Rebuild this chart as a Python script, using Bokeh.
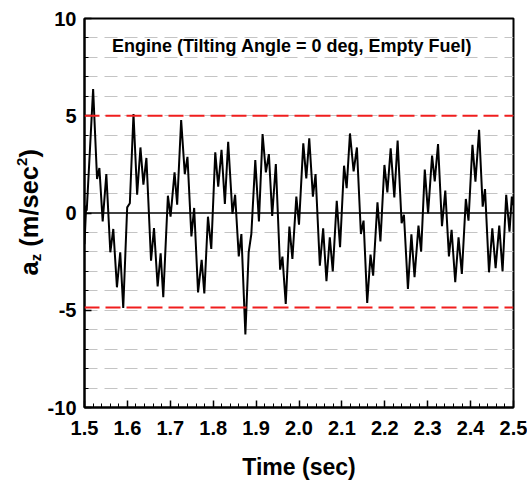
import math
from bokeh.plotting import figure
from bokeh.layouts import row
from bokeh.models import Range1d, FixedTicker, Label, Span
from bokeh.core.properties import value
from bokeh.embed import file_html
from bokeh.resources import INLINE

# ---- data ----
t_sec = [1.5000, 1.5039, 1.5052, 1.5201, 1.5293, 1.5347, 1.5424, 1.5509, 1.5602, 1.5671,
         1.5756, 1.5833, 1.5903, 1.5995, 1.6057, 1.6142, 1.6227, 1.6304, 1.6373, 1.6443,
         1.6551, 1.6620, 1.6705, 1.6775, 1.6836, 1.6944, 1.7006, 1.7099, 1.7160, 1.7253,
         1.7338, 1.7400, 1.7492, 1.7556, 1.7647, 1.7731, 1.7793, 1.7878, 1.7955, 1.8048,
         1.8117, 1.8194, 1.8272, 1.8349, 1.8449, 1.8511, 1.8596, 1.8657, 1.8750, 1.8827,
         1.8889, 1.8981, 1.9066, 1.9151, 1.9228, 1.9298, 1.9375, 1.9460, 1.9560, 1.9614,
         1.9691, 1.9776, 1.9846, 1.9938, 2.0000, 2.0100, 2.0170, 2.0239, 2.0324, 2.0386,
         2.0486, 2.0563, 2.0640, 2.0718, 2.0787, 2.0880, 2.0957, 2.1050, 2.1111, 2.1188,
         2.1273, 2.1350, 2.1443, 2.1505, 2.1590, 2.1667, 2.1728, 2.1829, 2.1898, 2.1991,
         2.2060, 2.2137, 2.2222, 2.2299, 2.2392, 2.2446, 2.2539, 2.2620, 2.2693, 2.2785,
         2.2847, 2.2932, 2.3009, 2.3102, 2.3164, 2.3241, 2.3333, 2.3410, 2.3495, 2.3557,
         2.3642, 2.3719, 2.3796, 2.3889, 2.3951, 2.4043, 2.4113, 2.4198, 2.4282, 2.4336,
         2.4429, 2.4506, 2.4583, 2.4668, 2.4745, 2.4830, 2.4907, 2.4961, 2.5000]
az = [-1.60, 0.38, 0.12, 6.37, 1.75, 2.31, -0.43, 2.00, -2.02, -0.82,
      -3.82, -2.02, -4.88, 0.29, 0.50, 5.09, 0.94, 3.37, 1.46, 2.83,
      -2.45, -0.77, -3.78, -2.07, -4.33, 0.89, -0.19, 2.09, 0.43, 4.78,
      2.00, 2.89, -1.20, 0.26, -4.08, -2.41, -4.13, -0.19, -1.85, 3.12,
      1.35, 3.25, 0.46, 3.66, -0.05, 0.94, -2.23, -1.08, -6.25, -2.02,
      -1.08, 2.72, -0.43, 4.06, 2.09, 3.03, -0.15, 2.52, -2.91, -2.24,
      -4.67, -0.70, -2.36, 0.84, -0.60, 3.58, 1.78, 3.84, 0.84, 2.00,
      -2.71, -0.79, -3.51, -1.25, -3.00, 0.63, -1.76, 2.43, 1.28, 4.09,
      2.14, 3.37, -1.08, -0.39, -4.62, -2.14, -3.22, 0.55, -1.46, 2.47,
      1.06, 3.32, 0.80, 3.72, -0.53, -0.09, -3.90, -1.10, -3.30, -0.65,
      -1.99, 2.23, -0.02, 2.95, 1.63, 3.54, -0.68, 1.15, -2.23, -0.87,
      -3.56, -1.25, -3.13, 0.72, -0.39, 3.51, 1.61, 4.28, 0.33, 1.23,
      -3.05, -0.79, -2.83, -0.65, -3.01, 0.94, -0.96, 0.84, 0.40]

x_ticks = [1.5, 1.6, 1.7, 1.8, 1.9, 2.0, 2.1, 2.2, 2.3, 2.4, 2.5]
x_tick_labels = ["1.5", "1.6", "1.7", "1.8", "1.9", "2.0", "2.1", "2.2", "2.3", "2.4", "2.5"]
y_ticks = [-10, -5, 0, 5, 10]
y_tick_labels = ["-10", "-5", "0", "5", "10"]
limit_upper = 5.0
limit_lower = -4.86
title_text = "Engine (Tilting Angle = 0 deg, Empty Fuel)"
x_label = "Time (sec)"
y_label_parts = ["a", "z", "(m/sec", "2", ")"]

X0, X1 = 1.5, 2.5
Y0, Y1 = -10, 10
FONT = "Liberation Sans"

TOTAL_W, H = 527, 485
YLAB_W = 44                       # narrow strip holding the rotated y title
W = TOTAL_W - YLAB_W
BL, BR, BT, BB = 81 - YLAB_W, 14, 18, 78
FW = W - BL - BR
FH = H - BT - BB

p = figure(width=W, height=H, x_range=Range1d(X0, X1), y_range=Range1d(Y0, Y1),
           output_backend="svg", toolbar_location=None,
           min_border_left=BL, min_border_right=BR, min_border_top=BT, min_border_bottom=BB)
p.background_fill_color = "white"
p.border_fill_color = "white"
p.outline_line_color = "black"
p.outline_line_width = 2

# picture pixel -> data helpers
def dx(px):
    return X0 + (px - YLAB_W - BL) * (X1 - X0) / FW

def dy(py):
    return Y1 - (py - BT) * (Y1 - Y0) / FH

# axes
x_minor = [round(X0 + 0.02 * i, 2) for i in range(51)]
p.xaxis.ticker = FixedTicker(ticks=x_ticks, minor_ticks=x_minor)
p.xaxis.major_label_overrides = {t: s for t, s in zip(x_ticks, x_tick_labels)}
p.yaxis.ticker = FixedTicker(ticks=y_ticks, minor_ticks=list(range(-10, 11)))
p.yaxis.major_label_overrides = {t: s for t, s in zip(y_ticks, y_tick_labels)}
for ax in (p.xaxis, p.yaxis):
    ax.axis_line_width = 2
    ax.axis_line_color = "black"
    ax.major_tick_in = 7
    ax.major_tick_out = 0
    ax.minor_tick_in = 4
    ax.minor_tick_out = 0
    ax.major_tick_line_width = 1.5
    ax.minor_tick_line_width = 1
    ax.major_tick_line_color = "black"
    ax.minor_tick_line_color = "black"
    ax.major_label_text_font = FONT
    ax.major_label_text_font_style = "bold"
    ax.major_label_text_font_size = "20px"
    ax.major_label_text_color = "black"
p.xaxis.major_label_standoff = 13
p.yaxis.major_label_standoff = 8
p.xaxis.axis_label = x_label
p.xaxis.axis_label_text_font = FONT
p.xaxis.axis_label_text_font_style = "bold"
p.xaxis.axis_label_text_font_size = "23px"
p.xaxis.axis_label_text_color = "black"
p.xaxis.axis_label_standoff = 16

p.xgrid.visible = False
p.ygrid.ticker = FixedTicker(ticks=[i for i in range(-9, 10) if i != 0])
p.ygrid.grid_line_color = "#c4c4c4"
p.ygrid.grid_line_width = 1
p.ygrid.grid_line_dash = "13 7"

# reference lines
for lim in (limit_upper, limit_lower):
    p.add_layout(Span(location=lim, dimension="width", line_color="#f01e1e",
                      line_width=2, line_dash="15 6"))
p.add_layout(Span(location=0, dimension="width", line_color="black", line_width=1.5))

# signal
p.line(t_sec, az, line_color="black", line_width=2)

# title inside the plot
p.add_layout(Label(x=dx(290), y=dy(45.7), text=title_text, text_font=FONT,
                   text_font_style="bold", text_font_size="18px", text_color="black",
                   text_align="center", text_baseline="alphabetic"))

# ---- narrow strip with the rotated y-axis title ----
# (its frame is aligned with the main frame by the row layout, so it shares the y mapping)
yl = figure(width=YLAB_W, height=H, x_range=Range1d(0, YLAB_W), y_range=Range1d(Y0, Y1),
            output_backend="svg", toolbar_location=None,
            x_axis_location=None, y_axis_location=None,
            min_border_left=0, min_border_right=0, min_border_top=BT, min_border_bottom=BB)
yl.outline_line_color = None
yl.background_fill_color = "white"
yl.border_fill_color = "white"
yl.xgrid.visible = False
yl.ygrid.visible = False

# each piece is anchored at its own centre so the rotation cannot move it
big, small = 25.5, 15
sizes = [big, small, big, small, big]
adv = [0.556, 0.500, 0.333 + 0.889 + 0.278 + 0.556 + 0.556 + 0.556, 0.556, 0.333]
gap_before = [0, 0, 0.278 * big, 0, 0]   # word space before "(m/sec"
shift = [0, 3, 0, -10, 0]          # baseline offset (px, + = below the line)
base_x = 37.0                      # baseline of the main text (picture column)
pos = 275.0                        # picture row where the title starts (bottom end)
for txt, fs, a, g, sh in zip(y_label_parts, sizes, adv, gap_before, shift):
    pos -= g
    w = a * fs
    cx = base_x + sh - 0.35 * fs
    cy = pos - w / 2
    yl.text(x=[cx], y=[dy(cy)], text=[txt], angle=math.pi / 2,
            text_font=value(FONT), text_font_style="bold",
            text_font_size=value(f"{fs}px"), text_color="black",
            text_align="center", text_baseline="middle")
    pos -= w

layout = row(yl, p)
open("out.html", "w").write(file_html(layout, INLINE))
